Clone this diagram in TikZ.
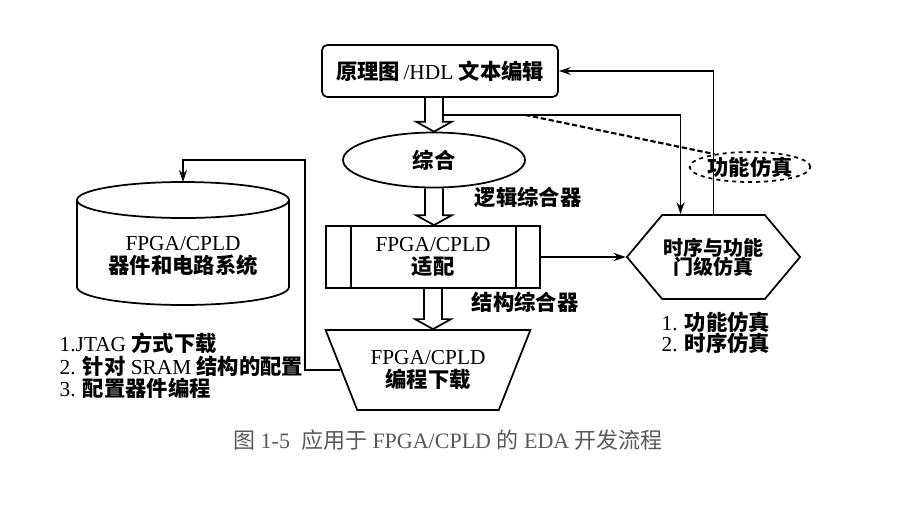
\documentclass[tikz,border=0pt]{standalone}
\usepackage{fontspec}
\setmainfont{Liberation Serif}
\newfontfamily\zhfont{Noto Sans CJK SC}
\newcommand{\zh}[1]{{\zhfont\bfseries #1}}
\newcommand{\zhr}[1]{{\zhfont #1}}
\usetikzlibrary{shapes.geometric,shapes.symbols,arrows.meta,calc}
\tikzset{
  box/.style={draw,line width=1.3pt,align=center,font=\fontsize{16}{17}\selectfont},
  note/.style={font=\fontsize{16}{17}\selectfont},
  flow/.style={line width=1.2pt,->,>={Stealth[length=9pt,width=6pt]}}
}
% outline of a wide hollow arrow pointing down from #1 to #2
\newcommand{\hollowarrow}[2]{%
  \draw[line width=1.3pt,line join=miter] ($(#1)+(-9,0)$) -- ($(#2)+(-9,-10)$) -- ($(#2)+(-18,-10)$)
    -- (#2) -- ($(#2)+(18,-10)$) -- ($(#2)+(9,-10)$) -- ($(#1)+(9,0)$);}
\begin{document}
\begin{tikzpicture}[x=0.75pt,y=-0.75pt]
  \fill[white] (0,0) rectangle (912,504);
  % flow boxes
  \node[box,rounded corners=4pt,minimum width=177pt,minimum height=39pt] (edit) at (440,71) {\zh{原理图}\,/HDL \zh{文本编辑}};
  \node[box,ellipse,minimum width=136.5pt,minimum height=41.25pt] (synth) at (434,160) {\zh{综合}};
  \node[box,minimum width=160.5pt,minimum height=46.5pt] (fit) at (433,257) {FPGA/CPLD\\\zh{适配}};
  \draw[line width=1.3pt] ($(fit.north west)+(26,0)$) -- ($(fit.south west)+(26,0)$);
  \draw[line width=1.3pt] ($(fit.north east)+(-25,0)$) -- ($(fit.south east)+(-25,0)$);
  \node[box,trapezium,shape border rotate=180,trapezium angle=60,trapezium stretches=true,minimum width=153.75pt,minimum height=60pt] (prog) at (428,370) {FPGA/CPLD\\\zh{编程下载}};
  \node[box,signal,signal to=west and east,signal pointer angle=100,inner xsep=1pt,minimum width=129.75pt,minimum height=63pt,font=\fontsize{15}{14.5}\selectfont] (sim) at (713.5,257) {\zh{时序与功能}\\\zh{门级仿真}};
  \node[draw,dashed,ellipse,line width=1.3pt,inner sep=0pt,minimum width=90pt,minimum height=22.5pt,note] (fsim) at (750,167) {\zh{功能仿真}};
  % device cylinder
  \draw[line width=1.3pt] (77,200) -- (77,287) arc[start angle=180,end angle=360,x radius=79.5pt,y radius=13.5pt] -- (289,200);
  \draw[line width=1.3pt] (183,200) ellipse [x radius=79.5pt,y radius=13.5pt];
  \node[note,align=center] (dev) at (183,256) {FPGA/CPLD\\\zh{器件和电路系统}};
  \coordinate (devtop) at (183,182);
  % hollow arrows
  \hollowarrow{edit.south -| synth.north}{synth.north}
  \hollowarrow{synth.south}{synth.south |- fit.north}
  \hollowarrow{fit.south}{fit.south |- prog.north}
  % connectors
  \coordinate (split) at ($(edit.south -| synth.north)+(9,17)$);
  \draw[flow] (split) -| ($(sim.north)+(-33,0)$);
  \draw[flow] (sim.north) |- (edit.east);
  \draw[flow] (fit.east) -- (sim.west);
  \draw[flow] (prog.west) -| (305,160) -| (devtop);
  \draw[line width=1.6pt,dash pattern=on 4pt off 2pt] ($(split)+(82,0)$) -- (fsim.160);
  % labels
  \node[note] (logic) at (528,197) {\zh{逻辑综合器}};
  \node[note] (struct) at (525,302) {\zh{结构综合器}};
  \node[note,anchor=west,align=left] (dl) at (55,366) {1.JTAG \zh{方式下载}\\2. \zh{针对} SRAM \zh{结构的配置}\\3. \zh{配置器件编程}};
  \node[note,anchor=west,align=left,font=\fontsize{16}{16}\selectfont] (sl) at (657,333) {1. \zh{功能仿真}\\2. \zh{时序仿真}};
  \node[font=\fontsize{16.5}{18}\selectfont,text=black!65] (cap) at (448,440) {\zhr{图} 1-5 \ \zhr{应用于} FPGA/CPLD \zhr{的} EDA \zhr{开发流程}};
\end{tikzpicture}
\end{document}
